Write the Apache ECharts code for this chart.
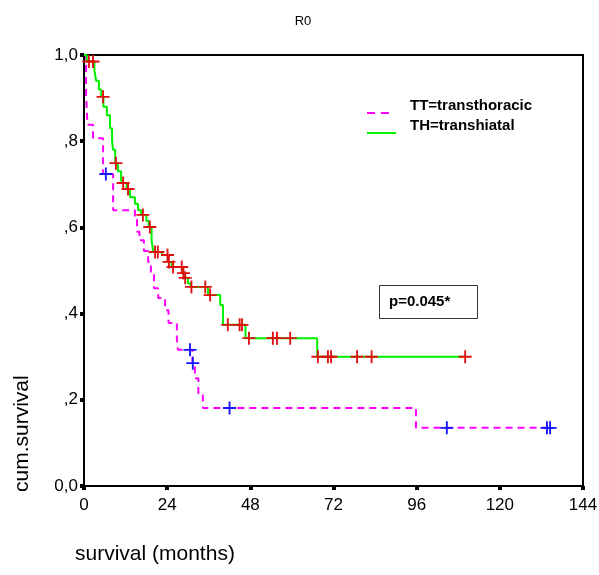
<!DOCTYPE html>
<html>
<head>
<meta charset="utf-8">
<title>R0</title>
<script src="https://cdn.jsdelivr.net/npm/echarts@6/dist/echarts.min.js"></script>
<style>
  html, body { margin: 0; padding: 0; background: #fff; }
  #chart { width: 599px; height: 575px; }
</style>
</head>
<body>
<div id="chart"></div>
<script>
// x ticks (months)
var xTicks = [0, 24, 48, 72, 96, 120, 144];

// TH = transhiatal (green), step points: time, cum. survival
var thTimes = [0, 0.8, 3, 3.5, 4.3, 5, 5.6, 6.6, 7.5, 8.1, 8.4, 9.0, 9.8, 10.7, 11, 12.3, 13.3, 14.7, 15.6, 16.5,
  18, 18.7, 19.5, 20, 22.5, 24.2, 25.3, 28.5, 29, 30, 30.8, 35.8, 39.3, 40.1, 46.6, 67.3, 110];
var thSurv = [1.0, 0.985, 0.965, 0.94, 0.92, 0.903, 0.88, 0.86, 0.83, 0.80, 0.78, 0.749, 0.73, 0.71, 0.703, 0.689, 0.67, 0.655, 0.64, 0.629,
  0.615, 0.601, 0.57, 0.543, 0.536, 0.52, 0.508, 0.494, 0.483, 0.47, 0.462, 0.443, 0.42, 0.374, 0.343, 0.30, 0.30];
// TH censored
var thCensTimes = [1.4, 2.6, 5.5, 9.2, 11.3, 12.7, 17, 19, 20.5, 21.3, 24.1, 24.5, 25.7, 28.2, 28.7, 29.2, 31, 35, 36.4, 41.5,
  44.9, 45.6, 47.6, 54.5, 55.7, 59.5, 67.5, 70.4, 71.3, 78.8, 83, 110];
var thCensSurv = [0.985, 0.985, 0.903, 0.749, 0.703, 0.689, 0.629, 0.601, 0.543, 0.543, 0.536, 0.52, 0.508, 0.508, 0.494, 0.483, 0.462, 0.462, 0.443, 0.374,
  0.374, 0.374, 0.343, 0.343, 0.343, 0.343, 0.30, 0.30, 0.30, 0.30, 0.30, 0.30];

// TT = transthoracic (pink dashed)
var ttTimes = [0, 0.6, 1.0, 2.6, 5.5, 8.4, 14.7, 15.3, 16, 17.3, 18.5, 19.3, 20.2, 21.4, 23.4, 24.4, 26.8, 27.1, 31.3, 32,
  33, 34.3, 95.8, 135.5];
var ttSurv = [1.0, 0.905, 0.838, 0.807, 0.724, 0.64, 0.62, 0.59, 0.57, 0.545, 0.52, 0.49, 0.459, 0.436, 0.408, 0.378, 0.339, 0.316, 0.285, 0.25,
  0.215, 0.181, 0.135, 0.135];
// TT censored
var ttCensTimes = [6.3, 30.6, 31.4, 42, 104.7, 133.6, 134.5];
var ttCensSurv = [0.724, 0.316, 0.285, 0.181, 0.135, 0.135, 0.135];

function pairs(xs, ys) {
  var out = [];
  for (var i = 0; i < xs.length; i++) {
    out.push([xs[i], ys[i]]);
  }
  return out;
}

function yLabel(v) {
  if (v === 0) return '0,0';
  if (v === 1) return '1,0';
  return ',' + Math.round(v * 10);
}

var crossPath = 'path://M6,0h2v14h-2zM0,6h14v2h-14z';

var myChart = echarts.init(document.getElementById('chart'));
var option = {
  animation: false,
  backgroundColor: '#fff',
  title: {
    text: 'R0',
    left: 298,
    top: 10,
    textAlign: 'center',
    textStyle: { fontFamily: 'Arial, Liberation Sans', fontSize: 13, fontWeight: 'normal', color: '#000' }
  },
  grid: {
    left: 84, top: 55, right: 16, bottom: 89,
    containLabel: false,
    outerBoundsMode: 'none',
    show: true,
    borderColor: '#000',
    borderWidth: 2
  },
  xAxis: {
    type: 'value',
    min: 0, max: 144, interval: 24,
    splitLine: { show: false },
    axisLine: { show: true, onZero: false, lineStyle: { color: '#000', width: 2 } },
    axisTick: { show: true, length: 4, lineStyle: { color: '#000', width: 4 } },
    axisLabel: {
      margin: 11,
      color: '#000',
      fontFamily: 'Arial, Liberation Sans',
      fontSize: 17,
      formatter: function (v) { return xTicks.indexOf(v) >= 0 ? String(v) : ''; }
    }
  },
  yAxis: {
    type: 'value',
    min: 0, max: 1, interval: 0.2,
    splitLine: { show: false },
    axisLine: { show: true, onZero: false, lineStyle: { color: '#000', width: 2 } },
    axisTick: { show: true, length: 4, lineStyle: { color: '#000', width: 4 } },
    axisLabel: {
      margin: 6,
      color: '#000',
      fontFamily: 'Arial, Liberation Sans',
      fontSize: 17,
      formatter: yLabel
    }
  },
  graphic: [
    { type: 'text', left: 75, top: 544,
      style: { text: 'survival (months)', fontFamily: 'Arial, Liberation Sans', fontSize: 21, fill: '#000' } },
    { type: 'text', x: 12, y: 492, rotation: Math.PI / 2,
      style: { text: 'cum.survival', fontFamily: 'Arial, Liberation Sans', fontSize: 21, fill: '#000' } },
    // legend
    { type: 'line', shape: { x1: 367, y1: 113, x2: 391, y2: 113 },
      style: { stroke: '#ff00ff', lineWidth: 2, lineDash: [8, 6] } },
    { type: 'line', shape: { x1: 367, y1: 133, x2: 396, y2: 133 },
      style: { stroke: '#00f000', lineWidth: 2 } },
    { type: 'text', x: 410, y: 98,
      style: { text: 'TT=transthoracic', fontFamily: 'Arial, Liberation Sans', fontSize: 15, fontWeight: 'bold', fill: '#000' } },
    { type: 'text', x: 410, y: 118,
      style: { text: 'TH=transhiatal', fontFamily: 'Arial, Liberation Sans', fontSize: 15, fontWeight: 'bold', fill: '#000' } },
    // p-value box
    { type: 'rect', shape: { x: 379.5, y: 285.5, width: 98, height: 33 },
      style: { fill: '#fff', stroke: '#333', lineWidth: 1 } },
    { type: 'text', x: 389, y: 294,
      style: { text: 'p=0.045*', fontFamily: 'Arial, Liberation Sans', fontSize: 15, fontWeight: 'bold', fill: '#000' } }
  ],
  series: [
    {
      name: 'TT=transthoracic',
      type: 'line',
      step: 'end',
      symbol: 'none',
      data: pairs(ttTimes, ttSurv),
      lineStyle: { color: '#ff00ff', width: 2, type: [7, 5] },
      z: 2
    },
    {
      name: 'TH=transhiatal',
      type: 'line',
      step: 'end',
      symbol: 'none',
      data: pairs(thTimes, thSurv),
      lineStyle: { color: '#00f000', width: 2 },
      z: 3
    },
    {
      name: 'TT censored',
      type: 'scatter',
      symbol: crossPath,
      symbolSize: 13,
      data: pairs(ttCensTimes, ttCensSurv),
      itemStyle: { color: '#1414ff', opacity: 1 },
      z: 4
    },
    {
      name: 'TH censored',
      type: 'scatter',
      symbol: crossPath,
      symbolSize: 13,
      data: pairs(thCensTimes, thCensSurv),
      itemStyle: { color: '#e01010', opacity: 1 },
      z: 5
    }
  ]
};
myChart.setOption(option);
</script>
</body>
</html>
